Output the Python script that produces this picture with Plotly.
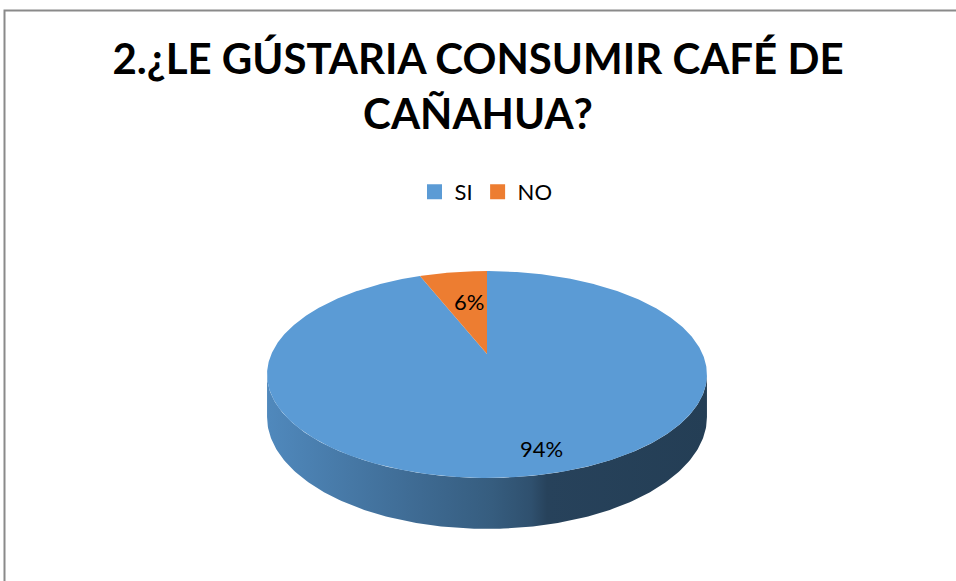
import numpy as np
import plotly.graph_objects as go

# ---- data ----
categories = ["SI", "NO"]
values = [94, 6]
colors = ["#5B9BD5", "#ED7D31"]
title_lines = ["2.¿LE GÚSTARIA CONSUMIR CAFÉ DE", "CAÑAHUA?"]

# ---- geometry (pixel-like axis coordinates) ----
W, Hh = 956, 581
CX, CY = 487.0, 354.0
RX, RY = 215.6, 99.4
PERSP = 0.198
DEPTH = 40.9
LABEL_POS = {"SI": (541, 448), "NO": (469, 301)}
FONT = "Lato"


def project(theta_deg, r=1.0, drop=0.0):
    t = np.radians(theta_deg)
    u = r * np.sin(t)
    v = r * np.cos(t)
    w = 1 + PERSP * v
    x = CX + RX * u / w
    y = CY - RY * v / w + DEPTH * drop / w
    return x, y


def shade(hexcol, f):
    h = hexcol.lstrip("#")
    r, g, b = (int(h[i:i + 2], 16) for i in (0, 2, 4))
    return "rgb(%d,%d,%d)" % (r * f, g * f, b * f)


total = float(sum(values))
angles = np.cumsum([0] + [v / total * 360 for v in values])

fig = go.Figure()

# side wall (front visible part)
th_r = np.degrees(np.arccos(-PERSP))
th_l = 360 - th_r
for i, cat in enumerate(categories):
    a = max(angles[i], th_r)
    b = min(angles[i + 1], th_l)
    if b <= a:
        continue
    ts = np.linspace(a, b, 200)
    xt, yt = project(ts)
    xb, yb = project(ts[::-1], drop=1.0)
    xs = np.concatenate([xt, xb, xt[:1]])
    ys = np.concatenate([yt, yb, yt[:1]])
    base = colors[i]
    fig.add_trace(go.Scatter(
        x=xs, y=ys, mode="lines", fill="toself", line=dict(width=0),
        fillgradient=dict(
            type="horizontal", start=CX - RX * 1.03, stop=CX + RX * 1.03,
            colorscale=[[0, shade(base, 0.89)], [0.35, shade(base, 0.69)],
                        [0.51, shade(base, 0.60)], [0.60, shade(base, 0.52)],
                        [0.635, shade(base, 0.43)], [1, shade(base, 0.40)]]),
        hoverinfo="skip", showlegend=False))

# top face slices
for i, cat in enumerate(categories):
    ts = np.linspace(angles[i], angles[i + 1], max(int((angles[i + 1] - angles[i]) * 2), 4))
    xa, ya = project(ts)
    xs = np.concatenate([[CX], xa, [CX]])
    ys = np.concatenate([[CY], ya, [CY]])
    fig.add_trace(go.Scatter(
        x=xs, y=ys, mode="lines", fill="toself", fillcolor=colors[i],
        line=dict(width=0, color=colors[i]), hoverinfo="text",
        text="%s: %d%%" % (cat, round(values[i] / total * 100)), showlegend=False))

# legend entries
for i, cat in enumerate(categories):
    fig.add_trace(go.Scatter(
        x=[None], y=[None], mode="markers", name=cat,
        marker=dict(symbol="square", size=15, color=colors[i])))

# data labels
for i, cat in enumerate(categories):
    lx, ly = LABEL_POS[cat]
    fig.add_annotation(x=lx, y=ly, xref="x", yref="y", showarrow=False,
                       text="%d%%" % round(values[i] / total * 100),
                       font=dict(family=FONT, size=22, color="#000000"))

# border (top and left edges visible)
fig.add_shape(type="path", xref="x", yref="y",
              path="M 4.5 %d L 4.5 10.5 L %d 10.5" % (Hh + 5, W + 5),
              line=dict(color="#8a8a8a", width=2))

fig.update_layout(
    width=W, height=Hh,
    margin=dict(l=0, r=0, t=0, b=0),
    paper_bgcolor="white", plot_bgcolor="white",
    title=dict(text="<br>".join(title_lines), x=0.5, xanchor="center",
               y=1 - 74 / Hh, yanchor="middle", yref="paper",
               font=dict(family=FONT, size=42, color="#000000", weight="bold")),
    legend=dict(orientation="h", x=0.5 + 8 / W, xanchor="center", y=1 - 192 / Hh, yanchor="middle",
                font=dict(family=FONT, size=22, color="#000000"), itemwidth=30,
                bgcolor="rgba(0,0,0,0)"),
    xaxis=dict(range=[0, W], visible=False, fixedrange=True),
    yaxis=dict(range=[Hh, 0], visible=False, fixedrange=True),
    showlegend=True,
)

fig.write_html("out.html", config={"displayModeBar": False},
               post_script="document.body.style.margin='0';document.body.style.overflow='hidden';")
